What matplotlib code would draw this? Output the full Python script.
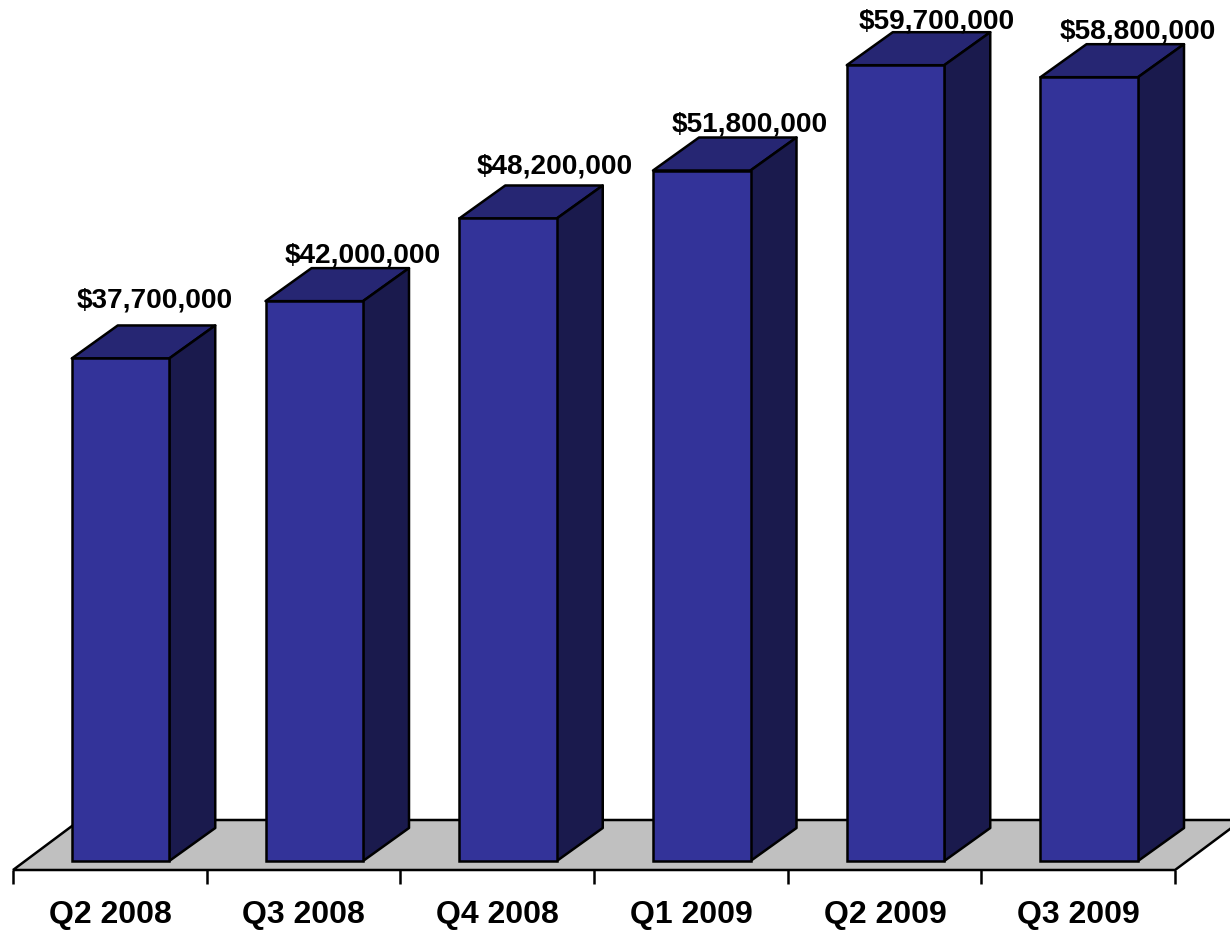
import numpy as np
import matplotlib
matplotlib.use("Agg")
import matplotlib.pyplot as plt
from matplotlib.patches import Polygon

quarters = ["Q2 2008", "Q3 2008", "Q4 2008", "Q1 2009", "Q2 2009", "Q3 2009"]
values = [37700000, 42000000, 48200000, 51800000, 59700000, 58800000]

plt.rcParams["font.family"] = ["Liberation Sans", "DejaVu Sans"]

W, H = 1230, 930
X0_PX, STEP_PX = 120.5, 193.75
BASE_PX, PX_PER_UNIT = 861.0, 13.33 / 1e6
FRONT, TOP, SIDE, FLOOR = "#333399", "#262673", "#1A1A4D", "#C0C0C0"
LW = 1.8

fig = plt.figure(figsize=(W / 100, H / 100), dpi=100, facecolor="white")
ax = fig.add_axes([0, 0, 1, 1])
ax.set_xlim((0 - X0_PX) / STEP_PX, (W - X0_PX) / STEP_PX)
ax.set_ylim((BASE_PX - H) / PX_PER_UNIT, BASE_PX / PX_PER_UNIT)
ax.axis("off")

DX = 46 / STEP_PX           # bar depth, in category units
DY = 33 / PX_PER_UNIT       # bar depth, in value units
UX = 1 / STEP_PX            # one pixel along x
UY = 1 / PX_PER_UNIT        # one pixel along y
BAR_W = 97.5 / STEP_PX
n = len(values)

# floor
fl = -9 * UY
fx0 = -0.5 - 10.6 * UX
fx1 = n - 0.5 - 11.1 * UX
floor_pts = [(fx0, fl), (fx1, fl), (fx1 + 67 * UX, fl + 50 * UY), (fx0 + 67 * UX, fl + 50 * UY)]
ax.add_patch(Polygon(floor_pts, closed=True, fc=FLOOR, ec="black", lw=LW, zorder=1))

# category ticks and labels
for i in range(n + 1):
    tx = fx0 + (fx1 - fx0) * i / n
    ax.plot([tx, tx], [fl, fl - 14 * UY], color="black", lw=LW, zorder=1, solid_capstyle="butt")
for i, q in enumerate(quarters):
    ax.text(i - 10.5 * UX, -54 * UY, q, ha="center", va="center", fontsize=23, fontweight="bold", color="black")

# bars
bars = ax.bar(range(n), values, width=BAR_W, color=FRONT, edgecolor="black", linewidth=LW, zorder=3)
for b, v in zip(bars, values):
    xl, xr = b.get_x(), b.get_x() + b.get_width()
    ax.add_patch(Polygon([(xl, v), (xr, v), (xr + DX, v + DY), (xl + DX, v + DY)],
                         closed=True, fc=TOP, ec="black", lw=LW, zorder=2, joinstyle="round"))
    ax.add_patch(Polygon([(xr, 0), (xr, v), (xr + DX, v + DY), (xr + DX, DY)],
                         closed=True, fc=SIDE, ec="black", lw=LW, zorder=2, joinstyle="round"))

# value labels (offsets in pixels from the front-top of each bar)
label_dx = [34.5, 48.5, 46.5, 47.5, 41, 48]
label_dy = [58, 46, 52, 46, 43.5, 45.5]
for i, v in enumerate(values):
    ax.text(i + label_dx[i] * UX, v + label_dy[i] * UY, f"${v:,.0f}", ha="center", va="center",
            fontsize=20.2, fontweight="bold", color="black", zorder=5)

fig.savefig("out.png", dpi=100, facecolor="white")
